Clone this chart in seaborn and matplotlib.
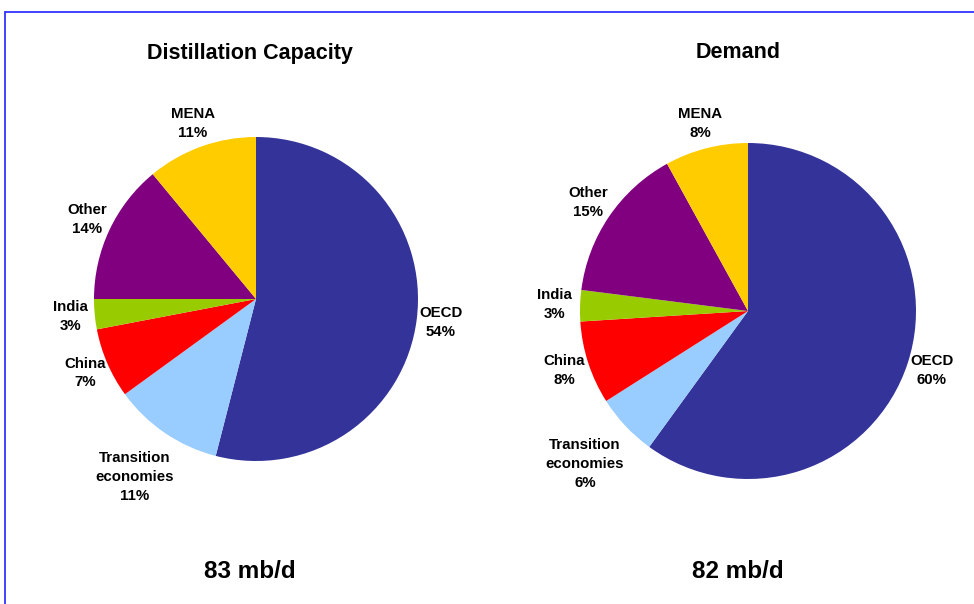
import numpy as np
import matplotlib
matplotlib.use("Agg")
import matplotlib.pyplot as plt
from matplotlib.lines import Line2D
import seaborn as sns

sns.set_theme(style="white")
plt.rcParams["font.family"] = ["Liberation Sans", "DejaVu Sans"]

# Regional shares (%) in clockwise order starting at 12 o'clock
regions = ["OECD", "Transition\neconomies", "China", "India", "Other", "MENA"]
capacity_share = [54, 11, 7, 3, 14, 11]
demand_share = [60, 6, 8, 3, 15, 8]
region_colors = ["#333399", "#99CCFF", "#FF0000", "#99CC00", "#800080", "#FFCC00"]
panel_titles = ["Distillation Capacity", "Demand"]
panel_totals = ["83 mb/d", "82 mb/d"]

W, H = 974, 604
fig = plt.figure(figsize=(W / 100, H / 100), dpi=100)
fig.patch.set_facecolor("white")

# blue frame (top and left edges)
fig.add_artist(Line2D([5 / W, 1.0], [1 - 12 / H, 1 - 12 / H], color="#3333FF", lw=1.3,
                      transform=fig.transFigure))
fig.add_artist(Line2D([5 / W, 5 / W], [1 - 12 / H, 0.0], color="#3333FF", lw=1.3,
                      transform=fig.transFigure))

LIM = 1.3
# (center x, center y, radius) in pixels for each pie
layouts = [(256, 299, 162), (748, 311, 168)]
label_dist = [1.15, 1.33, 1.15, 1.15, 1.15, 1.15]

for shares, (cx, cy, r), title, total, tx in zip(
        [capacity_share, demand_share], layouts, panel_titles, panel_totals, [250, 738]):
    side = 2 * LIM * r
    ax = fig.add_axes([(cx - side / 2) / W, 1 - (cy + side / 2) / H, side / W, side / H])
    wedges, _ = ax.pie(shares, colors=region_colors, startangle=90, counterclock=False,
                       wedgeprops=dict(linewidth=0))
    ax.set_xlim(-LIM, LIM)
    ax.set_ylim(-LIM, LIM)
    ax.set_aspect("equal")
    ax.axis("off")
    for w, name, val, d in zip(wedges, regions, shares, label_dist):
        ang = np.deg2rad((w.theta1 + w.theta2) / 2)
        ax.text(d * np.cos(ang), d * np.sin(ang), f"{name}\n{val}%", ha="center",
                va="center", fontsize=10.8, fontweight="bold", color="black",
                linespacing=1.45)
    fig.text(tx / W, 1 - 53 / H, title, ha="center", va="center", fontsize=15.5,
             fontweight="bold", color="black")
    fig.text(tx / W, 1 - 572 / H, total, ha="center", va="center", fontsize=17.5,
             fontweight="bold", color="black")

fig.savefig("out.png", dpi=100, facecolor="white")
